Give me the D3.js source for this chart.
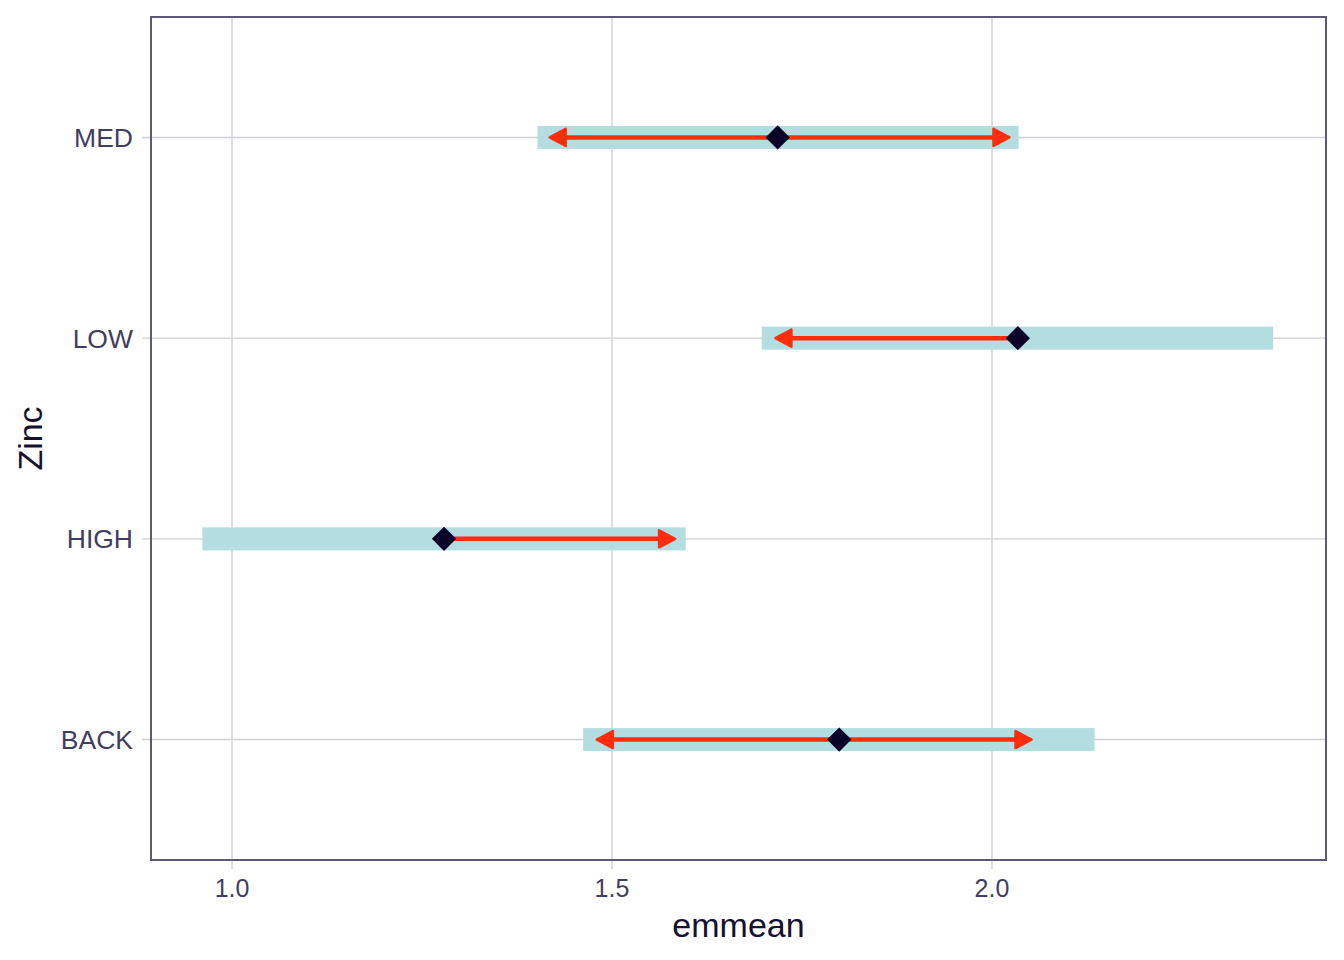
<!DOCTYPE html>
<html>
<head>
<meta charset="utf-8">
<script src="https://cdn.jsdelivr.net/npm/d3@7"></script>
<style>
  body { margin: 0; background: #fff; }
  text { font-family: "Liberation Sans", Arial, sans-serif; }
</style>
</head>
<body>
<svg id="chart" width="1344" height="960"></svg>
<script>
// emmeans for Zinc, confidence band + comparison arrows
const levels = ["BACK", "HIGH", "LOW", "MED"];
const emmean = [1.799, 1.279, 2.034, 1.718];
const lowerCL = [1.462, 0.961, 1.697, 1.402];
const upperCL = [2.135, 1.597, 2.370, 2.035];
// arrow ends (null = no arrow that side)
const arrowLeft = [1.480, null, 1.715, 1.418];
const arrowRight = [2.052, 1.583, null, 2.023];
const xTicks = [1.0, 1.5, 2.0];

const margin = { top: 17, right: 18, bottom: 100, left: 151 };
const width = 1344 - margin.left - margin.right;
const height = 960 - margin.top - margin.bottom;

const svg = d3.select("#chart");
const g = svg.append("g").attr("transform", `translate(${margin.left},${margin.top})`);

const x = d3.scaleLinear().domain([0.8934, 2.4395]).range([0, width]);
const y = d3.scalePoint().domain(levels).range([height, 0]).padding(0.6);

const gridColor = "#d0cfd6";
const textColor = "#413d5e";

// grid
g.append("g").selectAll("line.vx")
  .data(xTicks).join("line")
  .attr("x1", d => x(d)).attr("x2", d => x(d))
  .attr("y1", 0).attr("y2", height + 9)
  .attr("stroke", gridColor).attr("stroke-width", 1.4);

g.append("g").selectAll("line.hy")
  .data(levels).join("line")
  .attr("x1", -9).attr("x2", width)
  .attr("y1", d => y(d)).attr("y2", d => y(d))
  .attr("stroke", gridColor).attr("stroke-width", 1.4);

const rows = levels.map((lv, i) => ({
  lv, em: emmean[i], lo: lowerCL[i], hi: upperCL[i], al: arrowLeft[i], ar: arrowRight[i]
}));

// CI bands
g.selectAll("rect.ci")
  .data(rows).join("rect")
  .attr("class", "ci")
  .attr("x", d => x(d.lo))
  .attr("width", d => x(d.hi) - x(d.lo))
  .attr("y", d => y(d.lv) - 11.5)
  .attr("height", 23)
  .attr("fill", "#b4dde2");

// arrows
const red = "#ff2d0c";
const arrows = [];
rows.forEach(d => {
  if (d.al != null) arrows.push({ lv: d.lv, from: d.em, to: d.al });
  if (d.ar != null) arrows.push({ lv: d.lv, from: d.em, to: d.ar });
});

const headLen = 16, headHalf = 8.5;
g.selectAll("line.arrow")
  .data(arrows).join("line")
  .attr("x1", d => x(d.from))
  .attr("x2", d => x(d.to) - Math.sign(x(d.to) - x(d.from)) * (headLen - 2))
  .attr("y1", d => y(d.lv)).attr("y2", d => y(d.lv))
  .attr("stroke", red).attr("stroke-width", 4.5);

g.selectAll("path.head")
  .data(arrows).join("path")
  .attr("d", d => {
    const tip = x(d.to), s = Math.sign(x(d.to) - x(d.from)), yy = y(d.lv);
    const b = tip - s * headLen;
    return `M${tip},${yy}L${b},${yy - headHalf}L${b},${yy + headHalf}Z`;
  })
  .attr("fill", red).attr("stroke", red)
  .attr("stroke-width", 2.5).attr("stroke-linejoin", "round");

// emmean diamonds
g.selectAll("path.pt")
  .data(rows).join("path")
  .attr("transform", d => `translate(${x(d.em)},${y(d.lv)}) rotate(45)`)
  .attr("d", "M-8.6,-8.6H8.6V8.6H-8.6Z")
  .attr("fill", "#0c0228");

// panel border
g.append("rect")
  .attr("width", width).attr("height", height)
  .attr("fill", "none").attr("stroke", "#5e5878").attr("stroke-width", 2);

// tick labels
g.selectAll("text.xt")
  .data(xTicks).join("text")
  .attr("x", d => x(d)).attr("y", height + 37)
  .attr("text-anchor", "middle")
  .attr("font-size", 25).attr("fill", textColor)
  .text(d => d3.format(".1f")(d));

g.selectAll("text.yt")
  .data(levels).join("text")
  .attr("x", -18).attr("y", d => y(d))
  .attr("dy", "0.36em")
  .attr("text-anchor", "end")
  .attr("font-size", 26.5).attr("fill", textColor)
  .text(d => d);

// axis titles
g.append("text")
  .attr("x", width / 2).attr("y", height + 77)
  .attr("text-anchor", "middle")
  .attr("font-size", 34).attr("fill", "#15112e")
  .text("emmean");

svg.append("text")
  .attr("transform", `translate(42,${margin.top + height / 2}) rotate(-90)`)
  .attr("text-anchor", "middle")
  .attr("font-size", 34).attr("fill", "#15112e")
  .text("Zinc");
</script>
</body>
</html>
